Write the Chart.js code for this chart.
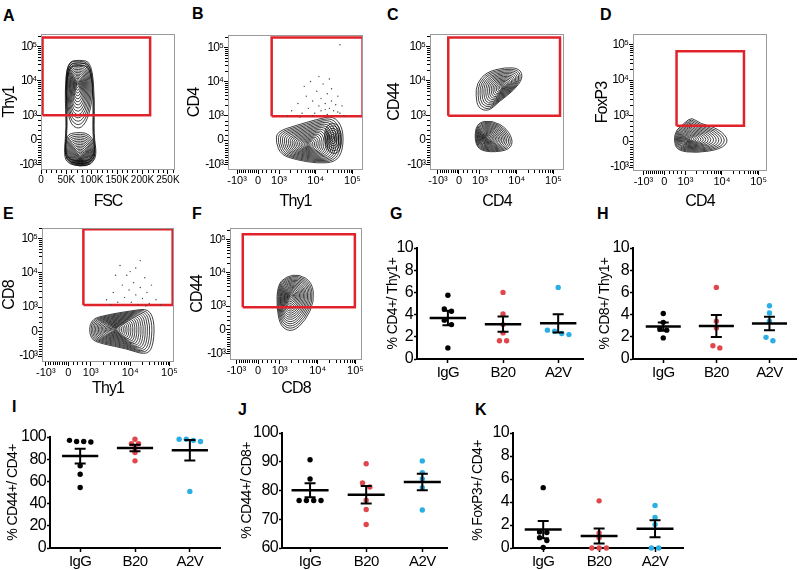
<!DOCTYPE html>
<html>
<head>
<meta charset="utf-8">
<script src="https://cdn.jsdelivr.net/npm/chart.js@4.4.1/dist/chart.umd.min.js"></script>
<style>
  body { margin: 0; width: 800px; height: 570px; background: #fff; position: relative; overflow: hidden; }
  canvas { position: absolute; }
  .tag { position: absolute; font: bold 16px "Liberation Sans", Arial, sans-serif; line-height: 16px; color: #000; }
</style>
</head>
<body>
<div class="tag" style="left:3px;top:8px">A</div>
<div class="tag" style="left:192px;top:6px">B</div>
<div class="tag" style="left:387px;top:7px">C</div>
<div class="tag" style="left:600px;top:7px">D</div>
<div class="tag" style="left:3px;top:206px">E</div>
<div class="tag" style="left:192px;top:206px">F</div>
<div class="tag" style="left:390px;top:206px">G</div>
<div class="tag" style="left:597px;top:206px">H</div>
<div class="tag" style="left:12px;top:399px">I</div>
<div class="tag" style="left:238px;top:402px">J</div>
<div class="tag" style="left:475px;top:402px">K</div>

<script>
// ---------------- TICKS ----------------

const biTickValues = [-1000, 0, 1000, 10000, 100000];
const biTickLabels = ["-10³", "0", "10³", "10⁴", "10⁵"];

const fscTickValues = [0, 50000, 100000, 150000, 200000, 250000];
const fscTickLabels = ["0", "50K", "100K", "150K", "200K", "250K"];

// ---------------- GATES (x0, x1, y0, y1 in axis units) ----------------

const gateA = [3000, 215000, 1.0, 4.16];
const gateB = [0.65, 4.98, 0.98, 4.2];
const gateC = [-0.51, 4.81, 0.98, 4.16];
const gateD = [0.58, 3.8, 0.62, 3.53];
const gateE = [0.67, 4.64, 1.09, 4.18];
const gateF = [-0.71, 4.47, 0.95, 4.04];

// ---------------- CONTOUR POPULATIONS ----------------

const popsA = [
    { peak: [76000, 1.0], rings: 3, depth: 0.12,
      outline: [[52000, 3.17], [75000, 3.25], [100000, 3.17], [106000, 1.6], [104000, 0.2], [110000, -0.6], [100000, -1.0],
                [77000, -1.08], [52000, -0.95], [45000, -0.6], [50000, 0.5], [47000, 2.0]] },
    { peak: [72000, 2.3], rings: 15,
      outline: [[52000, 3.15], [75000, 3.22], [98000, 3.1], [103000, 1.8], [92000, 0.8], [75000, 0.4], [55000, 0.7], [48000, 2.0]] },
    { peak: [78000, -0.7], rings: 16,
      outline: [[55000, 0.3], [100000, 0.3], [108000, -0.6], [98000, -1.0], [77000, -1.07], [55000, -0.95], [47000, -0.6], [50000, 0.0]] }
];
const popsB = [
    { peak: [2.4, -0.2], rings: 18,
      outline: [[0.9, 0.35], [1.8, 0.6], [2.8, 0.85], [3.6, 1.0], [4.05, 0.5], [4.05, -0.4], [3.7, -0.9], [2.8, -0.95], [1.8, -0.8], [1.1, -0.6], [0.85, -0.1]] },
    { peak: [3.55, 0.1], rings: 7,
      outline: [[3.15, 0.55], [3.7, 0.75], [4.0, 0.3], [3.95, -0.4], [3.6, -0.6], [3.2, -0.3]] }
];
const popsC = [
    { peak: [1.3, 0.1], rings: 17,
      outline: [[0.8, 0.7], [1.6, 0.8], [2.3, 0.45], [2.6, -0.1], [2.3, -0.45], [1.2, -0.5], [0.75, -0.2]] },
    { peak: [2.05, 2.15], rings: 15,
      outline: [[0.85, 2.3], [1.3, 2.75], [2.2, 2.95], [2.9, 2.9], [3.05, 2.5], [2.6, 2.0], [1.9, 1.55], [1.4, 1.15], [0.9, 1.3], [0.8, 1.8]] }
];
const popsD = [
    { peak: [1.15, 0.1], rings: 16,
      outline: [[0.55, 0.45], [1.0, 0.75], [1.3, 0.95], [1.7, 0.7], [2.6, 0.5], [3.1, 0.05], [2.7, -0.3], [1.5, -0.45], [0.6, -0.35], [0.45, 0.05]] }
];
const popsE = [
    { peak: [2.1, 0.1], rings: 20,
      outline: [[0.95, 0.5], [1.8, 0.7], [2.8, 0.85], [3.6, 0.95], [3.85, 0.3], [3.75, -0.7], [3.4, -0.95], [2.6, -0.7], [1.5, -0.5], [0.95, -0.3]] }
];
const popsF = [
    { peak: [1.5, 1.45], rings: 18,
      outline: [[0.9, 1.9], [1.3, 2.25], [1.9, 2.35], [2.5, 2.0], [2.6, 1.2], [2.2, 0.4], [1.6, -0.1], [1.05, 0.1], [0.85, 0.9]] }
];

// scattered single events above the gates' lower edge
const dotsB = [[1.6, 1.2], [1.9, 1.5], [2.1, 1.1], [2.3, 1.8], [2.4, 1.3], [2.6, 1.6], [2.7, 1.1], [2.8, 2.0], [2.9, 1.4],
               [3.0, 1.7], [3.0, 1.2], [3.1, 2.3], [3.2, 1.5], [3.3, 1.05], [3.3, 1.9], [3.4, 1.3], [3.5, 1.6], [3.5, 2.1],
               [3.6, 1.2], [3.7, 1.45], [3.8, 1.8], [3.9, 1.1], [4.0, 1.4], [4.1, 1.0], [2.2, 2.2], [2.0, 0.95], [3.4, 2.5],
               [2.5, 2.4], [1.4, 1.0], [3.8, 1.15], [3.9, 3.9], [2.9, 2.6], [3.2, 1.25], [2.6, 1.0]];
const dotsE = [[1.7, 1.3], [2.0, 1.6], [2.2, 1.2], [2.4, 1.9], [2.5, 1.4], [2.6, 2.3], [2.7, 1.7], [2.8, 1.2], [2.9, 2.0],
               [3.0, 1.5], [3.0, 2.6], [3.1, 1.1], [3.2, 1.8], [3.3, 1.35], [3.4, 2.2], [3.5, 1.6], [3.6, 1.15], [3.7, 1.9],
               [3.9, 1.3], [4.1, 1.1], [2.3, 2.7], [3.2, 2.9], [1.9, 1.1], [2.75, 2.45], [3.45, 1.05], [2.1, 2.3]];

// ---------------- DOT PLOT DATA ----------------

const groups = ["IgG", "B20", "A2V"];
const groupColors = ["#000000", "#e0474c", "#2aaee4"];

const cd4Thy1 = [
    [5.75, 4.5, 4.3, 3.5, 3.1, 1.0],
    [6.0, 4.05, 3.1, 2.35, 1.65, 1.65],
    [6.45, 2.6, 2.5, 2.3, 2.2]
];
const cd8Thy1 = [
    [4.1, 3.3, 2.7, 2.6, 1.9],
    [6.45, 3.4, 2.8, 1.2, 1.0],
    [4.8, 4.15, 3.4, 1.95, 1.65]
];
const cd44Cd4 = [
    [97, 96, 96, 95.5, 74, 66.5, 54.5],
    [98, 94, 94, 90, 86, 78.5],
    [98, 97, 96, 98, 51]
];
const cd44Cd8 = [
    [90.7, 84, 76.5, 76.5, 76.5, 76.5],
    [89.3, 82.6, 81.2, 76.6, 73.4, 68.2],
    [90.3, 86.2, 84.0, 81.0, 73.2]
];
const foxp3Cd4 = [
    [5.25, 1.4, 1.35, 0.9, 0.65, 0.05],
    [4.1, 1.3, 0.9, 0, 0, 0],
    [3.7, 2.65, 2.05, 0, 0]
];

// ---------------- HELPERS ----------------

const FAM = '"Liberation Sans", Arial, sans-serif';
const KX = 1.75, KY = 1.4;

function bi(v, k) {
    if (Math.abs(v) <= 1000) return v / 1000;
    return Math.sign(v) * (1 + k * Math.log10(Math.abs(v) / 1000));
}

function biMajor(k, min, max) {
    return biTickValues.map((v, i) => ({ value: bi(v, k), lbl: biTickLabels[i] }))
        .filter(t => t.value >= min && t.value <= max);
}

function biMinor(k, min, max) {
    const list = [];
    for (let v = -900; v < 0; v += 100) list.push(bi(v, k));
    for (let v = 200; v < 1000; v += 200) list.push(bi(v, k));
    [1000, 10000, 100000].forEach(dec => {
        for (let m = 2; m <= 9; m++) list.push(bi(dec * m, k));
    });
    return list.filter(v => v >= min && v <= max);
}

function fscMajor() {
    return fscTickValues.map((v, i) => ({ value: v, lbl: fscTickLabels[i] }));
}

function fscMinor() {
    const list = [];
    for (let v = 10000; v < 262000; v += 10000) if (v % 50000 !== 0) list.push(v);
    return list;
}

function addCanvas(id, left, top, w, h) {
    const c = document.createElement("canvas");
    c.id = id;
    c.width = w;
    c.height = h;
    c.style.left = left + "px";
    c.style.top = top + "px";
    c.style.width = w + "px";
    c.style.height = h + "px";
    document.body.appendChild(c);
    return c;
}

// narrow the text a little, the figure uses a condensed face
function squeeze(px) {
    return { id: "squeeze", beforeDraw(chart) { chart.ctx.letterSpacing = px + "px"; } };
}

function smoothRing(ctx, pts) {
    const n = pts.length;
    const mid = (a, b) => [(a[0] + b[0]) / 2, (a[1] + b[1]) / 2];
    const start = mid(pts[n - 1], pts[0]);
    ctx.beginPath();
    ctx.moveTo(start[0], start[1]);
    for (let i = 0; i < n; i++) {
        const m = mid(pts[i], pts[(i + 1) % n]);
        ctx.quadraticCurveTo(pts[i][0], pts[i][1], m[0], m[1]);
    }
    ctx.closePath();
    ctx.stroke();
}

// ---------------- FLOW PANELS ----------------

const flowPops = {};
const flowMinor = {};
const flowXLabels = {};

const flowPlugin = {
    id: "flowPlot",
    beforeDatasetsDraw(chart) {
        const pops = flowPops[chart.canvas.id] || [];
        const { ctx, chartArea: a, scales: { x, y } } = chart;
        ctx.save();
        ctx.beginPath();
        ctx.rect(a.left, a.top, a.right - a.left, a.bottom - a.top);
        ctx.clip();
        ctx.strokeStyle = "#000";
        ctx.lineWidth = 0.75;
        pops.forEach(pop => {
            const cx = x.getPixelForValue(pop.peak[0]);
            const cy = y.getPixelForValue(pop.peak[1]);
            const depth = pop.depth || 1;
            const pts = pop.outline.map(q => [x.getPixelForValue(q[0]), y.getPixelForValue(q[1])]);
            for (let k = 0; k < pop.rings; k++) {
                const f = Math.pow(1 - depth * k / pop.rings, 1.15);
                smoothRing(ctx, pts.map(q => [cx + (q[0] - cx) * f, cy + (q[1] - cy) * f]));
            }
        });
        ctx.restore();
    },
    afterDraw(chart) {
        const { ctx, chartArea: a, scales: { x, y } } = chart;
        const minor = flowMinor[chart.canvas.id];
        const xl = flowXLabels[chart.canvas.id];
        ctx.save();
        ctx.strokeStyle = "#000";
        ctx.lineWidth = 1;
        ctx.beginPath();
        minor.x.forEach(v => {
            const px = Math.round(x.getPixelForValue(v)) + 0.5;
            ctx.moveTo(px, a.bottom); ctx.lineTo(px, a.bottom + 3);
        });
        minor.y.forEach(v => {
            const py = Math.round(y.getPixelForValue(v)) + 0.5;
            ctx.moveTo(a.left - 3, py); ctx.lineTo(a.left, py);
        });
        ctx.stroke();
        ctx.strokeStyle = "#9a9a9a";
        ctx.strokeRect(a.left + 0.5, a.top + 0.5, a.right - a.left - 1, a.bottom - a.top - 1);

        // x tick labels on the scale's own tick positions, measured and left-aligned
        ctx.letterSpacing = "0px";
        ctx.fillStyle = "#000";
        ctx.font = xl.size + "px " + FAM;
        ctx.textAlign = "left";
        ctx.textBaseline = "top";
        xl.ticks.forEach(t => {
            const w = ctx.measureText(t.lbl).width;
            ctx.fillText(t.lbl, x.getPixelForValue(t.value) - w / 2, a.bottom + 5);
        });
        ctx.restore();
    }
};

function flowAxis(pos, min, max, ticks, title, box, showLabels) {
    return {
        type: "linear",
        position: pos,
        min: min,
        max: max,
        bounds: "data",
        afterBuildTicks: s => { s.ticks = ticks.map(t => ({ value: t.value })); },
        afterFit: s => { if (pos === "left") s.width = box; else s.height = box; },
        grid: { display: true, drawOnChartArea: false, drawTicks: true, tickLength: 4, tickColor: "#000", tickWidth: 1 },
        border: { display: false },
        ticks: {
            display: showLabels,
            autoSkip: false, maxRotation: 0, minRotation: 0, padding: 1, color: "#000",
            font: { family: FAM, size: 12 },
            callback: (v, i) => ticks[i].lbl
        },
        title: { display: true, text: title, color: "#000", font: { family: FAM, size: 16 }, padding: 0 }
    };
}

function makeFlow(p) {
    const lh = 16 * 1.2;
    const [L, T, R, B] = p.frame;
    const left = Math.round(p.yTitleX - lh / 2);
    const top = T - 12;
    const bottom = Math.round(p.xTitleY + lh / 2);
    const right = R + 14;
    const cv = addCanvas(p.id, left, top, right - left, bottom - top);
    flowPops[p.id] = p.pops;
    flowMinor[p.id] = {
        x: p.fsc ? fscMinor() : biMinor(KX, p.xRange[0], p.xRange[1]),
        y: biMinor(KY, p.yRange[0], p.yRange[1])
    };

    const xt = p.fsc ? fscMajor() : biMajor(KX, p.xRange[0], p.xRange[1]);
    const yt = biMajor(KY, p.yRange[0], p.yRange[1]);
    flowXLabels[p.id] = { ticks: xt, size: p.fsc ? 10 : 11 };
    const g = p.gate;

    const datasets = [{
        data: [
            { x: g[0], y: g[2] }, { x: g[1], y: g[2] }, { x: g[1], y: g[3] },
            { x: g[0], y: g[3] }, { x: g[0], y: g[2] }
        ],
        showLine: true,
        borderColor: "#e0232b",
        borderWidth: 2.5,
        pointRadius: 0,
        fill: false
    }];
    if (p.events) {
        datasets.unshift({
            data: p.events.map(q => ({ x: q[0], y: q[1] })),
            backgroundColor: "#444",
            borderWidth: 0,
            pointRadius: 0.7
        });
    }

    new Chart(cv, {
        type: "scatter",
        data: { datasets: datasets },
        options: {
            responsive: false,
            animation: false,
            layout: { padding: { left: 0, top: 12, right: 14, bottom: 0 } },
            plugins: { legend: { display: false }, tooltip: { enabled: false } },
            scales: {
                x: flowAxis("bottom", p.xRange[0], p.xRange[1], xt, p.xTitle, bottom - B, false),
                y: flowAxis("left", p.yRange[0], p.yRange[1], yt, p.yTitle, L - left, true)
            }
        },
        plugins: [squeeze(p.fsc ? -1.2 : -0.9), flowPlugin]
    });
}

makeFlow({ id: "pA", frame: [41, 34, 175, 170], yTitleX: 10, xTitleY: 201, xTitle: "FSC", yTitle: "Thy1",
           fsc: true, xRange: [0, 264000], yRange: [-1.22, 4.3], gate: gateA, pops: popsA });
makeFlow({ id: "pB", frame: [228, 35, 363, 170], yTitleX: 195, xTitleY: 201, xTitle: "Thy1", yTitle: "CD4",
           xRange: [-1.43, 5.0], yRange: [-1.22, 4.3], gate: gateB, pops: popsB, events: dotsB });
makeFlow({ id: "pC", frame: [430, 34, 564, 170], yTitleX: 395, xTitleY: 201, xTitle: "CD4", yTitle: "CD44",
           xRange: [-1.38, 5.0], yRange: [-1.22, 4.3], gate: gateC, pops: popsC });
makeFlow({ id: "pD", frame: [633, 34, 767, 171], yTitleX: 603, xTitleY: 201, xTitle: "CD4", yTitle: "FoxP3",
           xRange: [-1.5, 4.9], yRange: [-1.15, 4.2], gate: gateD, pops: popsD });
makeFlow({ id: "pE", frame: [42, 228, 174, 362], yTitleX: 10, xTitleY: 388, xTitle: "Thy1", yTitle: "CD8",
           xRange: [-1.17, 4.7], yRange: [-1.24, 4.23], gate: gateE, pops: popsE, events: dotsE });
makeFlow({ id: "pF", frame: [230, 228, 362, 360], yTitleX: 198, xTitleY: 388, xTitle: "CD8", yTitle: "CD44",
           xRange: [-1.3, 4.8], yRange: [-1.28, 4.3], gate: gateF, pops: popsF });

// ---------------- DOT PLOTS ----------------

const dotVals = {};

function spread(vals, range) {
    // spread points with nearly equal values sideways, like a column scatter
    const idx = vals.map((v, i) => i).sort((a, b) => vals[b] - vals[a]);
    const off = new Array(vals.length).fill(0);
    let cluster = [idx[0]];
    const flush = () => {
        cluster.forEach((id, j) => { off[id] = (j - (cluster.length - 1) / 2) * 0.13; });
    };
    for (let k = 1; k < idx.length; k++) {
        if (vals[cluster[cluster.length - 1]] - vals[idx[k]] < range * 0.04) cluster.push(idx[k]);
        else { flush(); cluster = [idx[k]]; }
    }
    flush();
    return off;
}

const meanPlugin = {
    id: "meanSem",
    afterDatasetsDraw(chart) {
        const sets = dotVals[chart.canvas.id];
        const { ctx, scales: { x, y } } = chart;
        ctx.save();
        ctx.strokeStyle = "#000";
        sets.forEach((vals, i) => {
            const n = vals.length;
            const m = vals.reduce((a, b) => a + b, 0) / n;
            const sd = Math.sqrt(vals.reduce((a, b) => a + (b - m) * (b - m), 0) / (n - 1));
            const sem = sd / Math.sqrt(n);
            const cx = x.getPixelForValue(i + 1);
            const my = y.getPixelForValue(m);
            const hi = y.getPixelForValue(m + sem);
            const lo = y.getPixelForValue(m - sem);
            ctx.lineWidth = 2.5;
            ctx.beginPath();
            ctx.moveTo(x.getPixelForValue(i + 1 - 0.33), my);
            ctx.lineTo(x.getPixelForValue(i + 1 + 0.33), my);
            ctx.stroke();
            ctx.lineWidth = 2;
            ctx.beginPath();
            ctx.moveTo(cx, hi); ctx.lineTo(cx, lo);
            ctx.moveTo(cx - 5.5, hi); ctx.lineTo(cx + 5.5, hi);
            ctx.moveTo(cx - 5.5, lo); ctx.lineTo(cx + 5.5, lo);
            ctx.stroke();
        });
        ctx.restore();
    }
};

function makeDots(p) {
    const lh = 14 * 1.2;
    const [L, T, R, B] = p.frame;
    const left = Math.round(p.yTitleX - lh / 2);
    const top = T - 12;
    const bottom = B + 26;
    const right = R + 6;
    const cv = addCanvas(p.id, left, top, right - left, bottom - top);
    dotVals[p.id] = p.values;
    const range = p.yMax - p.yMin;

    const datasets = p.values.map((vals, i) => {
        const off = spread(vals, range);
        return {
            label: groups[i],
            data: vals.map((v, j) => ({ x: i + 1 + off[j], y: v })),
            backgroundColor: groupColors[i],
            borderWidth: 0,
            pointRadius: 2.7,
            clip: false
        };
    });

    new Chart(cv, {
        type: "scatter",
        data: { datasets: datasets },
        options: {
            responsive: false,
            animation: false,
            layout: { padding: { left: 0, top: 12, right: 6, bottom: 0 } },
            plugins: { legend: { display: false }, tooltip: { enabled: false } },
            scales: {
                x: {
                    type: "linear",
                    min: p.xMin,
                    max: p.xMax,
                    bounds: "data",
                    afterBuildTicks: s => { s.ticks = [1, 2, 3].map(v => ({ value: v })); },
                    afterFit: s => { s.height = bottom - B; },
                    grid: { display: true, drawOnChartArea: false, tickLength: 4, tickColor: "#000", tickWidth: 1.5 },
                    border: { display: true, color: "#000", width: 2 },
                    ticks: {
                        autoSkip: false, maxRotation: 0, minRotation: 0, padding: 1, color: "#000",
                        font: { family: FAM, size: 15 },
                        callback: (v, i) => groups[i]
                    }
                },
                y: {
                    type: "linear",
                    min: p.yMin,
                    max: p.yMax,
                    afterFit: s => { s.width = L - left; },
                    grid: { display: true, drawOnChartArea: false, tickLength: 3, tickColor: "#000", tickWidth: 1.5 },
                    border: { display: true, color: "#000", width: 2 },
                    ticks: { stepSize: p.step, padding: 1, color: "#000", font: { family: FAM, size: 16 } },
                    title: { display: true, text: p.yTitle, color: "#000", font: { family: FAM, size: 14 }, padding: 0 }
                }
            }
        },
        plugins: [squeeze(-0.6), meanPlugin]
    });
}

makeDots({ id: "pG", frame: [417, 248, 583, 359], yTitleX: 393, yTitle: "% CD4+/ Thy1+",
           yMin: 0, yMax: 10, step: 2, xMin: 0.44, xMax: 3.45, values: cd4Thy1 });
makeDots({ id: "pH", frame: [633, 248, 796, 359], yTitleX: 605, yTitle: "% CD8+/ Thy1+",
           yMin: 0, yMax: 10, step: 2, xMin: 0.43, xMax: 3.5, values: cd8Thy1 });
makeDots({ id: "pI", frame: [50, 437, 220, 548], yTitleX: 13, yTitle: "% CD44+/ CD4+",
           yMin: 0, yMax: 100, step: 20, xMin: 0.45, xMax: 3.55, values: cd44Cd4 });
makeDots({ id: "pJ", frame: [282, 433, 447, 548], yTitleX: 247, yTitle: "% CD44+/ CD8+",
           yMin: 60, yMax: 100, step: 10, xMin: 0.5, xMax: 3.44, values: cd44Cd8 });
makeDots({ id: "pK", frame: [513, 433, 683, 548], yTitleX: 478, yTitle: "% FoxP3+/ CD4+",
           yMin: 0, yMax: 10, step: 2, xMin: 0.46, xMax: 3.5, values: foxp3Cd4 });
</script>
</body>
</html>
